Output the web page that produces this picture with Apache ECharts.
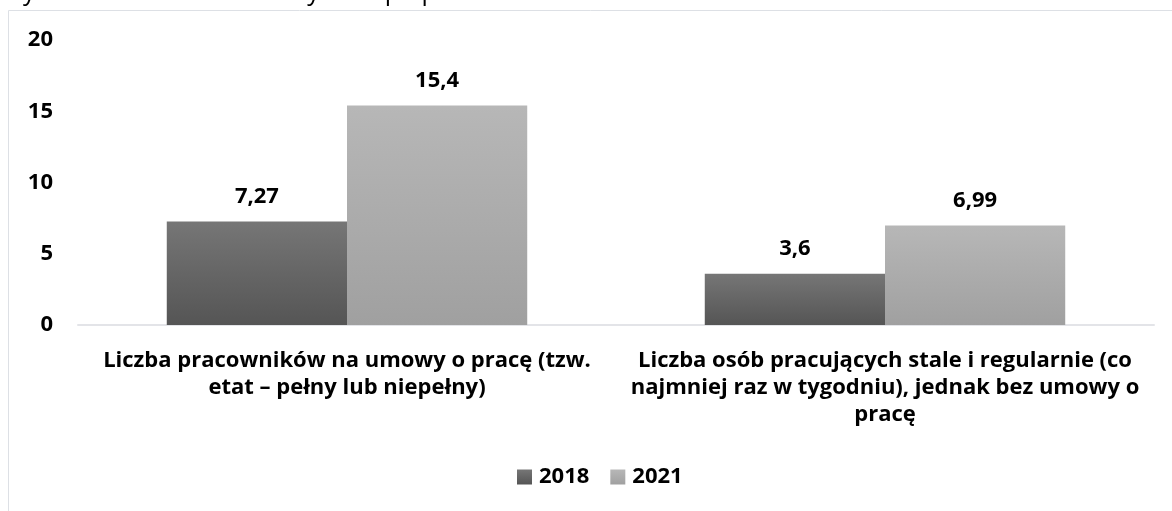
<!DOCTYPE html>
<html>
<head>
<meta charset="utf-8">
<script src="https://cdn.jsdelivr.net/npm/echarts@6/dist/echarts.min.js"></script>
<style>
  html, body { margin: 0; padding: 0; background: #fff; }
  #chart { width: 1172px; height: 511px; }
</style>
</head>
<body>
<div id="chart"></div>
<script>
// dane wykresu
var categories = [
  'Liczba pracowników na umowy o pracę (tzw.\netat – pełny lub niepełny)',
  'Liczba osób pracujących stale i regularnie (co\nnajmniej raz w tygodniu), jednak bez umowy o\npracę'
];
var seriesNames = ['2018', '2021'];
var values2018 = [7.27, 3.6];
var values2021 = [15.4, 6.99];

var font = '"Open Sans", "Noto Sans", sans-serif';
var fs = 22;

function grad(top, bottom) {
  return new echarts.graphic.LinearGradient(0, 0, 0, 1, [
    { offset: 0, color: top },
    { offset: 1, color: bottom }
  ]);
}

function plLabel(p) {
  return String(p.value).replace('.', ',');
}

var chart = echarts.init(document.getElementById('chart'), null, { renderer: 'canvas' });
chart.setOption({
  animation: false,
  textStyle: { fontFamily: font },
  graphic: [{
    type: 'rect',
    shape: { x: 8.5, y: 10.5, width: 1200, height: 600 },
    style: { fill: 'none', stroke: '#dde0e5', lineWidth: 1 },
    silent: true
  }, {
    type: 'text',
    left: 0,
    top: -20,
    style: {
      text: 'Wykres 24. Liczebność stałych współpracowników',
      font: '25px ' + font,
      fill: '#000'
    }
  }],
  legend: {
    data: seriesNames,
    bottom: 18,
    left: 512,
    itemWidth: 15,
    itemHeight: 15,
    itemGap: 21,
    icon: 'rect',
    textStyle: { fontSize: fs, fontWeight: 'bold', color: '#000', fontFamily: font, padding: [0, 0, 0, 2] }
  },
  grid: {
    left: 78,
    right: 18,
    top: 40,
    bottom: 186
  },
  xAxis: {
    type: 'category',
    data: categories,
    axisTick: { show: false },
    axisLine: { lineStyle: { color: '#e3e4e8', width: 2 } },
    axisLabel: {
      interval: 0,
      margin: 22,
      lineHeight: 27,
      fontSize: fs,
      fontWeight: 'bold',
      color: '#000',
      fontFamily: font
    }
  },
  yAxis: {
    type: 'value',
    min: 0,
    max: 20,
    interval: 5,
    splitLine: { show: false },
    axisLine: { show: false },
    axisTick: { show: false },
    axisLabel: {
      margin: 25,
      fontSize: fs,
      fontWeight: 'bold',
      color: '#000',
      fontFamily: font
    }
  },
  series: [{
    name: seriesNames[0],
    type: 'bar',
    data: values2018,
    barGap: '0%',
    barCategoryGap: '33%',
    itemStyle: { color: grad('#767676', '#555555') },
    label: {
      show: true,
      position: 'top',
      distance: 14,
      fontSize: fs,
      fontWeight: 'bold',
      color: '#000',
      fontFamily: font,
      formatter: plLabel
    }
  }, {
    name: seriesNames[1],
    type: 'bar',
    data: values2021,
    itemStyle: { color: grad('#b7b7b7', '#a0a0a0') },
    label: {
      show: true,
      position: 'top',
      distance: 14,
      fontSize: fs,
      fontWeight: 'bold',
      color: '#000',
      fontFamily: font,
      formatter: plLabel
    }
  }]
});
</script>
</body>
</html>
